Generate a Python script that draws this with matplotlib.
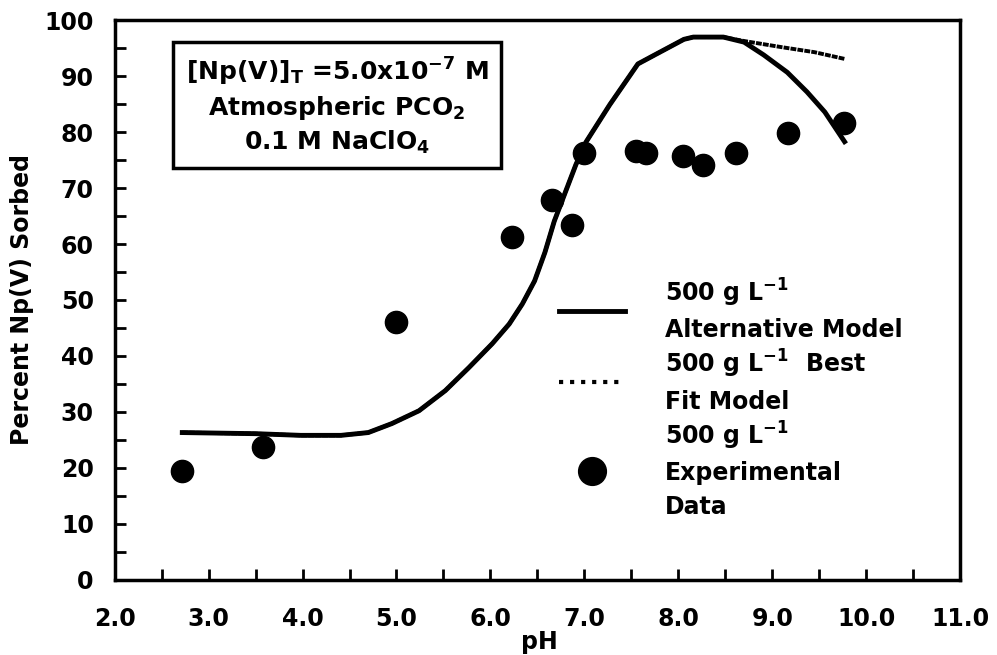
import matplotlib.pyplot as plt
from matplotlib.lines import Line2D

# data
ph_exp = [2.72, 3.58, 5.0, 6.23, 6.66, 6.87, 7.0, 7.55, 7.66, 8.05, 8.26, 8.61, 9.17, 9.76]
sorbed_exp = [19.5, 23.8, 46.0, 61.3, 67.8, 63.4, 76.3, 76.7, 76.3, 75.8, 74.1, 76.2, 79.8, 81.6]

ph_alt = [2.72, 3.5, 3.98, 4.41, 4.70, 4.95, 5.24, 5.52, 5.77, 6.02, 6.2, 6.34, 6.47, 6.58,
          6.68, 6.91, 7.02, 7.27, 7.57, 7.77, 8.06, 8.16, 8.48, 8.7, 8.91, 9.16, 9.37, 9.56, 9.77]
sorbed_alt = [26.3, 26.1, 25.8, 25.8, 26.3, 27.9, 30.2, 33.8, 37.9, 42.2, 45.7, 49.3, 53.4, 58.5,
              64.1, 74.2, 78.3, 84.9, 92.2, 94.0, 96.6, 97.0, 97.0, 96.1, 93.8, 90.7, 87.2, 83.6, 78.3]

ph_best = [2.72, 3.5, 3.98, 4.41, 4.70, 4.95, 5.24, 5.52, 5.77, 6.02, 6.2, 6.34, 6.47, 6.58,
           6.68, 6.91, 7.02, 7.27, 7.57, 7.77, 8.06, 8.16, 8.48, 8.7, 9.1, 9.45, 9.77]
sorbed_best = [26.3, 26.1, 25.8, 25.8, 26.3, 27.9, 30.2, 33.8, 37.9, 42.2, 45.7, 49.3, 53.4, 58.5,
               64.1, 74.2, 78.3, 84.9, 92.2, 94.0, 96.6, 97.0, 97.0, 96.3, 95.2, 94.3, 93.1]

xticks = [2.0, 3.0, 4.0, 5.0, 6.0, 7.0, 8.0, 9.0, 10.0, 11.0]
yticks = [0, 10, 20, 30, 40, 50, 60, 70, 80, 90, 100]

plt.rcParams['font.family'] = 'DejaVu Sans'
plt.rcParams['font.weight'] = 'bold'

fig = plt.figure(figsize=(9.97, 6.55), dpi=100)
ax = fig.add_axes([0.115, 0.115, 0.848, 0.854])

ax.plot(ph_alt, sorbed_alt, color='black', lw=3.5, solid_joinstyle='round')
ax.plot(ph_best, sorbed_best, color='black', lw=2.8, linestyle=(0, (1.5, 0.3)))
ax.plot(ph_exp, sorbed_exp, 'o', color='black', markersize=16)

ax.set_xlim(2.0, 11.0)
ax.set_ylim(0, 100)
ax.set_xticks(xticks)
ax.set_xticklabels([f'{v:.1f}' for v in xticks])
ax.set_yticks(yticks)
ax.set_xticks([v + 0.5 for v in xticks[:-1]], minor=True)
ax.set_yticks([v + 5 for v in yticks[:-1]], minor=True)

ax.tick_params(which='both', direction='in', width=2, length=8, labelsize=17)
ax.tick_params(axis='x', which='major', pad=20)
ax.tick_params(axis='y', which='major', pad=15)
for s in ax.spines.values():
    s.set_linewidth(2.5)

ax.set_xlabel('pH', fontsize=17, fontweight='bold')
ax.xaxis.set_label_coords(0.502, -0.09)
ax.set_ylabel('Percent Np(V) Sorbed', fontsize=17, fontweight='bold')
ax.yaxis.set_label_coords(-0.095, 0.5)

ax.text(0.263, 0.847,
        '[Np(V)]$_\\mathbf{T}$ =5.0x10$^{\\mathbf{-7}}$ M\nAtmospheric PCO$_\\mathbf{2}$\n0.1 M NaClO$_\\mathbf{4}$',
        transform=ax.transAxes, ha='center', va='center', fontsize=18, fontweight='bold',
        linespacing=1.3,
        bbox=dict(boxstyle='square,pad=0.5', facecolor='white', edgecolor='black', lw=2.5))

handles = [Line2D([], [], color='black', lw=3.5),
           Line2D([], [], color='black', lw=3, linestyle=':'),
           Line2D([], [], marker='o', color='black', linestyle='none', markersize=20)]
labels = ['500 g L$^{\\mathbf{-1}}$\nAlternative Model',
          '500 g L$^{\\mathbf{-1}}$  Best\nFit Model',
          '500 g L$^{\\mathbf{-1}}$\nExperimental\nData']
leg = ax.legend(handles, labels, loc='upper left', bbox_to_anchor=(0.5, 0.58),
                frameon=False, prop={'size': 17, 'weight': 'bold'},
                handlelength=2.8, handletextpad=1.7, labelspacing=0.25)
for t in leg.get_texts():
    t.set_linespacing(1.5)

fig.savefig('out.png', dpi=100)
